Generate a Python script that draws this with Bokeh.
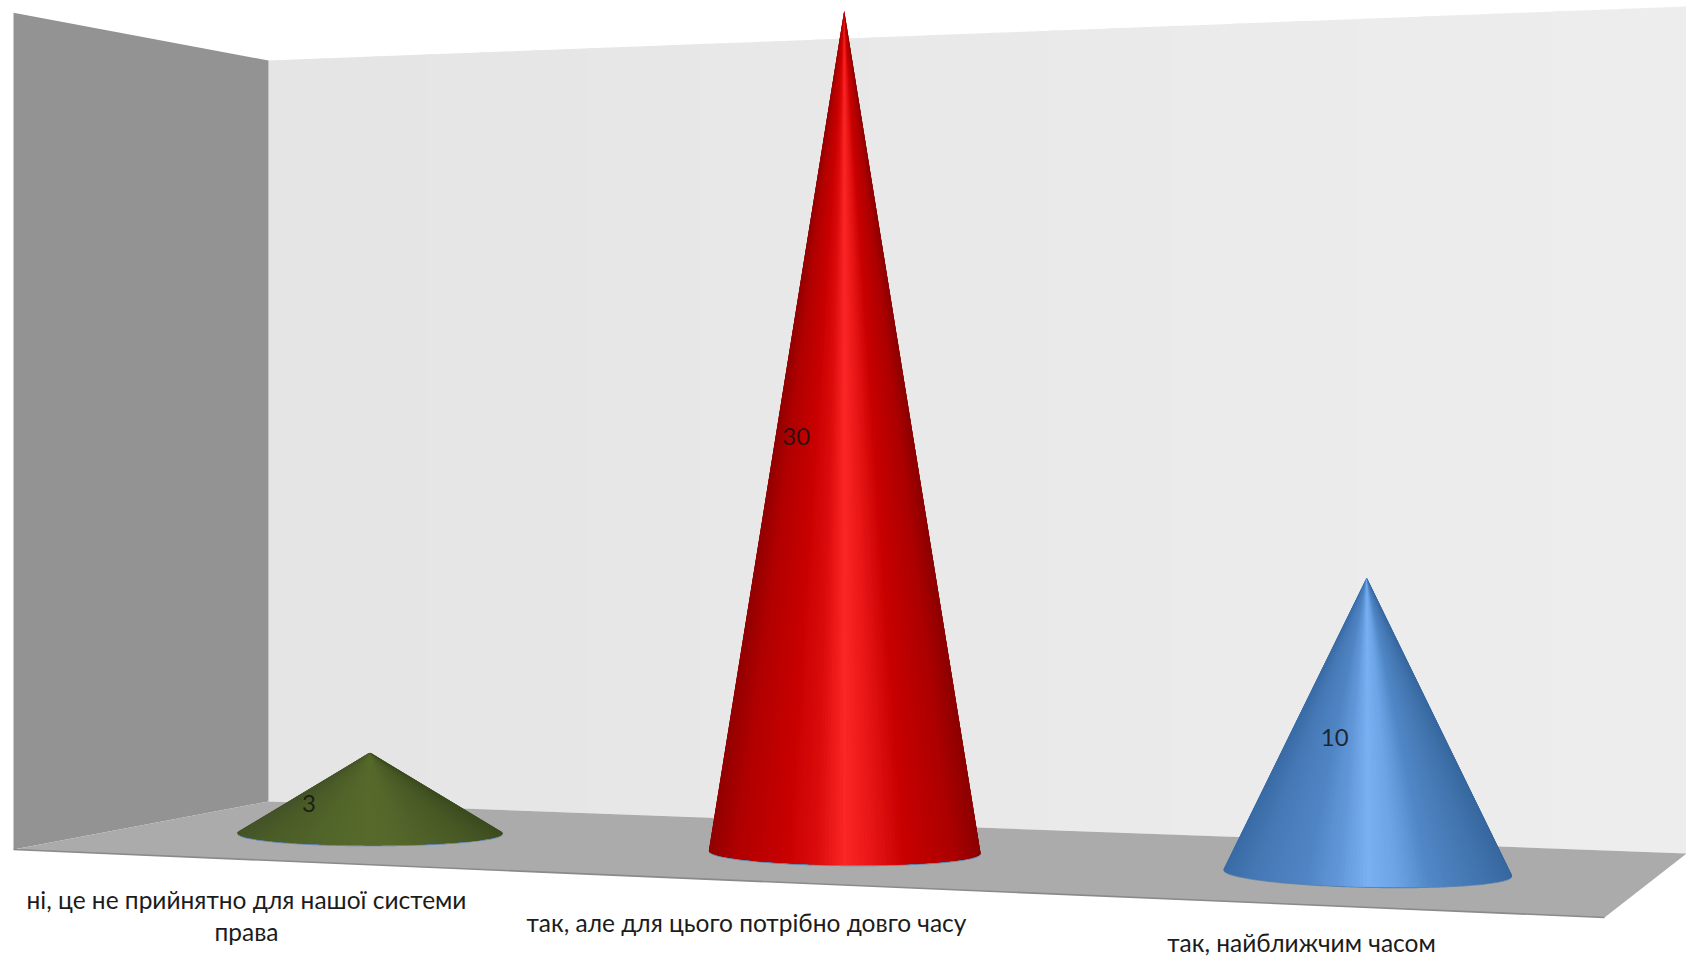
from bokeh.plotting import figure
from bokeh.embed import file_html
from bokeh.resources import INLINE
from bokeh.core.properties import value
import numpy as np

# Survey answers and their counts
categories = [["ні, це не прийнятно для нашої системи", "права"],
              ["так, але для цього потрібно довго часу"],
              ["так, найближчим часом"]]
counts = [3, 30, 10]
axis_max = 30

# Shading stops across each cone, from left edge to right edge
shade_stops = [0, 0.1, 0.28, 0.4, 0.5, 0.6, 0.72, 0.9, 1]
green_shades = ["#45552a", "#4b5c27", "#516429", "#55682b", "#566a2b", "#55682b", "#4f6128", "#465724", "#3e4d20"]
red_shades = ["#920000", "#b00000", "#c80000", "#dc0c0c", "#fb2626", "#e81616", "#c80000", "#ac0000", "#8c0000"]
blue_shades = ["#3a6ca6", "#4678b5", "#5085c4", "#6298da", "#79b0f2", "#6ca4e6", "#5087c6", "#4274ae", "#37689f"]
cone_shades = [green_shades, red_shades, blue_shades]

W, H = 1686, 958

# Corners of the floor on the page: front left, front right, back right, back left
floor_corners = np.array([[13, 849], [1604, 917], [1686, 853], [268, 801]], float)
unit_corners = [(0, 0), (1, 0), (1, 1), (0, 1)]
back_left_height = 741.0
cone_scale = 0.9965


def solve_homography():
    rows, rhs = [], []
    for (u, v), (x, y) in zip(unit_corners, floor_corners):
        rows.append([u, v, 1, 0, 0, 0, -u * x, -v * x])
        rows.append([0, 0, 0, u, v, 1, -u * y, -v * y])
        rhs += [x, y]
    return np.append(np.linalg.solve(np.array(rows), np.array(rhs)), 1.0).reshape(3, 3)


HOMOGRAPHY = solve_homography()
w_back_left = HOMOGRAPHY[2] @ np.array([0, 1, 1])


def project(u, v, z=0.0):
    """Floor position (u, v) and value height z to page coordinates."""
    px, py, w = HOMOGRAPHY @ np.array([u, v, 1.0])
    height = back_left_height * w_back_left / w
    return px / w, py / w - z / axis_max * height


def wall_top(u):
    """Height reached by the back wall, which falls a little short at the far right."""
    return axis_max - 0.08 * u


def mix(stops, colours, t):
    rgb = np.array([[int(c[i:i + 2], 16) for i in (1, 3, 5)] for c in colours], float)
    return "#%02x%02x%02x" % tuple(int(round(np.interp(t, stops, rgb[:, k]))) for k in range(3))


def hull(points):
    pts = sorted(set(points))

    def half(seq):
        out = []
        for p in seq:
            while len(out) > 1 and (out[-1][0] - out[-2][0]) * (p[1] - out[-2][1]) - (out[-1][1] - out[-2][1]) * (p[0] - out[-2][0]) <= 0:
                out.pop()
            out.append(p)
        return out

    return half(pts)[:-1] + half(pts[::-1])[:-1]


p = figure(width=W, height=H, x_range=(0, W), y_range=(H, 0), output_backend="svg",
           toolbar_location=None, min_border=0, outline_line_color=None,
           background_fill_color="white", border_fill_color="white")
p.axis.visible = False
p.grid.visible = False

# Back wall, brightening slightly towards the right
wall_steps = 24
for i in range(wall_steps):
    a, b = i / wall_steps, min(1, (i + 1.15) / wall_steps)
    shade = 229 + int(9 * a)
    corners = [project(a, 1), project(b, 1), project(b, 1, wall_top(b)), project(a, 1, wall_top(a))]
    p.patch([c[0] for c in corners], [c[1] for c in corners],
            fill_color="#%02x%02x%02x" % (shade, shade, shade), line_color=None)

# Side wall
side = [project(0, 0), project(0, 1), project(0, 1, axis_max), project(0, 0, axis_max - 0.03)]
p.patch([c[0] for c in side], [c[1] for c in side], fill_color="#939393", line_color=None)

# Floor and its darker front edge
p.patch(list(floor_corners[:, 0]), list(floor_corners[:, 1]), fill_color="#ababab", line_color=None)
p.line(list(floor_corners[:2, 0]), list(floor_corners[:2, 1]), line_color="#8a8a8a", line_width=1.6)

# Cones: each facet runs a little under its right-hand neighbour so no seams show
radii_u = [0.09, 0.087, 0.086]
radius_v = 0.22
angles = np.radians(np.arange(0, 360, 1.5))
for idx, (count, shades, radius_u) in enumerate(zip(counts, cone_shades, radii_u)):
    u0, v0 = (idx + 0.5) / len(counts), 0.5
    ring = [project(u0 + radius_u * np.cos(a), v0 + radius_v * np.sin(a)) for a in angles]
    apex = project(u0, v0, count * cone_scale)
    outline = hull(ring + [apex])
    start = outline.index(apex)
    arc = outline[start:] + outline[:start]
    arc = arc[1:]
    if arc[0][0] > arc[-1][0]:
        arc = arc[::-1]
    x_left, x_right = arc[0][0], arc[-1][0]

    p.patch([c[0] for c in ring], [c[1] + 1.2 for c in ring], fill_color="#5f83ab", line_color=None)
    for i in range(len(arc) - 1):
        fan = arc[i:i + 5]
        t = ((arc[i][0] + arc[i + 1][0]) / 2 - x_left) / (x_right - x_left)
        p.patch([apex[0]] + [c[0] for c in fan], [apex[1]] + [c[1] for c in fan],
                fill_color=mix(shade_stops, shades, t), line_color=None)

# Value labels, halfway up each cone and left of its axis
label_shift_x = [61, 48, 32]
label_shift_y = [11, 5.5, 13]
for idx, count in enumerate(counts):
    u0 = (idx + 0.5) / len(counts)
    cx, cy = project(u0, 0.5, count * cone_scale / 2)
    p.text([cx - label_shift_x[idx]], [cy + label_shift_y[idx]], text=[str(count)], text_font=value("Lato"),
           text_font_size="24px", text_color="#141414", text_alpha=0.85,
           text_align="center", text_baseline="middle")

# Category captions under the floor
caption_x = [246, 746, 1301]
caption_y = [899, 922, 942]
line_step = 32
for cx, cy, lines in zip(caption_x, caption_y, categories):
    for n, line in enumerate(lines):
        p.text([cx], [cy + n * line_step], text=[line], text_font=value("Lato"),
               text_font_size="24.5px", text_color="#1c1c1c",
               text_align="center", text_baseline="middle")

open("out.html", "w").write(file_html(p, INLINE))
